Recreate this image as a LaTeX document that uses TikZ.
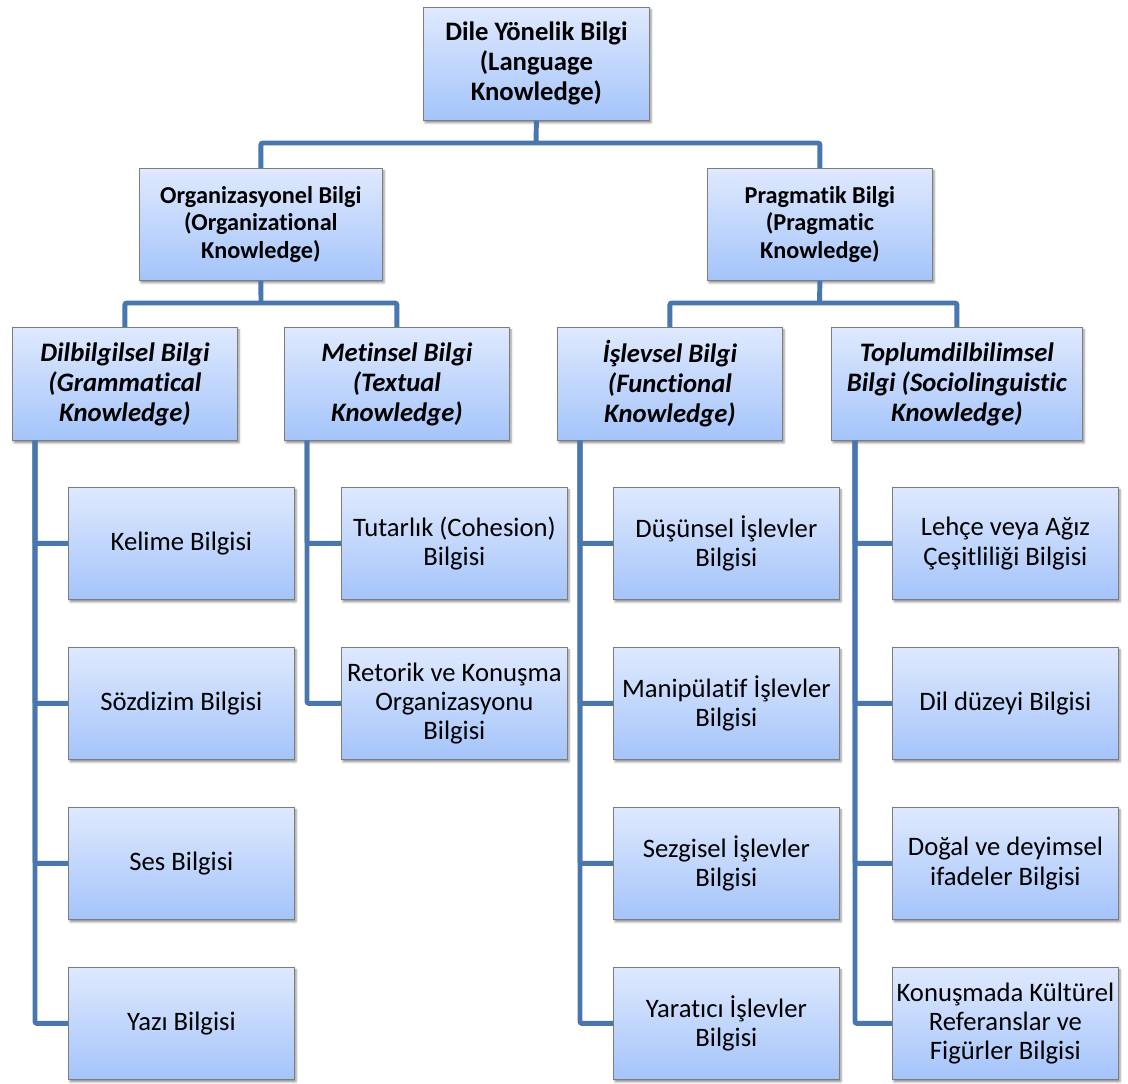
\documentclass[tikz,border=0pt]{standalone}
\usepackage{fontspec}
\setmainfont{Carlito}[Ligatures={NoCommon}]
\usetikzlibrary{calc,shadows.blur}
\definecolor{linkblue}{RGB}{72,118,174}
\definecolor{boxtop}{RGB}{223,233,254}
\definecolor{boxbottom}{RGB}{164,196,250}
\definecolor{boxedge}{RGB}{125,125,125}
\begin{document}
\begin{tikzpicture}[x=0.75pt,y=-0.75pt,
  box/.style={draw=boxedge, line width=0.6pt, top color=boxtop, bottom color=boxbottom,
    anchor=north west, inner sep=0pt, align=center,
    font=\fontsize{20}{22}\selectfont,
    blur shadow={shadow xshift=1.2pt, shadow yshift=-1.8pt, shadow blur radius=1.6pt, shadow opacity=45}},
  headbox/.style={box, font=\fontsize{20}{22.5}\selectfont\bfseries},
  subheadbox/.style={box, font=\fontsize{18.2}{20.6}\selectfont\bfseries},
  catbox/.style={box, font=\fontsize{20}{22.5}\selectfont\bfseries\itshape},
  conn/.style={draw=linkblue, line width=3.7pt, rounded corners=1.5pt}]
\useasboundingbox (0,0) rectangle (1128,1084);

% root and first level
\node[headbox, minimum width=169.5pt, minimum height=84.75pt] (lang) at (423,7)
  {Dile Yönelik Bilgi\\(Language\\Knowledge)};
\node[subheadbox, minimum width=182.25pt, minimum height=84pt] (org) at (139,168)
  {Organizasyonel Bilgi\\(Organizational\\Knowledge)};
\node[subheadbox, minimum width=168.75pt, minimum height=84pt] (prag) at (707,168)
  {Pragmatik Bilgi\\(Pragmatic\\Knowledge)};

% second level
\node[catbox, minimum width=168.75pt, minimum height=84.75pt] (gram) at (12,327)
  {Dilbilgilsel Bilgi\\(Grammatical\\Knowledge)};
\node[catbox, minimum width=168.75pt, minimum height=84.75pt] (text) at (284,327)
  {Metinsel Bilgi\\(Textual\\Knowledge)};
\node[catbox, minimum width=168.75pt, minimum height=84.75pt] (func) at (557,327)
  {İşlevsel Bilgi\\(Functional\\Knowledge)};
\node[catbox, minimum width=188.25pt, minimum height=84.75pt] (soc) at (831,327)
  {Toplumdilbilimsel\\Bilgi (Sociolinguistic\\Knowledge)};

% leaves
\tikzset{leaf/.style={box, minimum width=169.5pt, minimum height=84pt}}
\node[leaf] (g1) at (68,487) {Kelime Bilgisi};
\node[leaf] (g2) at (68,647) {Sözdizim Bilgisi};
\node[leaf] (g3) at (68,807) {Ses Bilgisi};
\node[leaf] (g4) at (68,967) {Yazı Bilgisi};

\node[leaf] (t1) at (341,487) {Tutarlık (Cohesion)\\Bilgisi};
\node[leaf] (t2) at (341,647) {Retorik ve Konuşma\\Organizasyonu\\Bilgisi};

\node[leaf] (f1) at (613,487) {Düşünsel İşlevler\\Bilgisi};
\node[leaf] (f2) at (613,647) {Manipülatif İşlevler\\Bilgisi};
\node[leaf] (f3) at (613,807) {Sezgisel İşlevler\\Bilgisi};
\node[leaf] (f4) at (613,967) {Yaratıcı İşlevler\\Bilgisi};

\node[leaf] (s1) at (892,487) {Lehçe veya Ağız\\Çeşitliliği Bilgisi};
\node[leaf] (s2) at (892,647) {Dil düzeyi Bilgisi};
\node[leaf] (s3) at (892,807) {Doğal ve deyimsel\\ifadeler Bilgisi};
\node[leaf] (s4) at (892,967) {Konuşmada Kültürel\\Referanslar ve\\Figürler Bilgisi};

% junction points of the tree
\coordinate (j1) at (536,143);
\coordinate (j2) at (261,303);
\coordinate (j3) at (819.5,303);
\coordinate (gs) at ($(gram.south west)+(23,0)$);
\coordinate (ts) at ($(text.south west)+(23,0)$);
\coordinate (fs) at ($(func.south west)+(23,0)$);
\coordinate (ss) at ($(soc.south west)+(24,0)$);

\begin{scope}[on background layer/.try]
\draw[conn] (lang.south) -- (j1);
\draw[conn] (org.north) |- (j1) -| (prag.north);
\draw[conn] (org.south) -- (j2);
\draw[conn] (gram.north) |- (j2) -| (text.north);
\draw[conn] (prag.south) -- (j3);
\draw[conn] (func.north) |- (j3) -| (soc.north);
\foreach \n in {g1,g2,g3,g4} \draw[conn] (gs) |- (\n.west);
\foreach \n in {t1,t2} \draw[conn] (ts) |- (\n.west);
\foreach \n in {f1,f2,f3,f4} \draw[conn] (fs) |- (\n.west);
\foreach \n in {s1,s2,s3,s4} \draw[conn] (ss) |- (\n.west);
\end{scope}
\end{tikzpicture}
\end{document}
